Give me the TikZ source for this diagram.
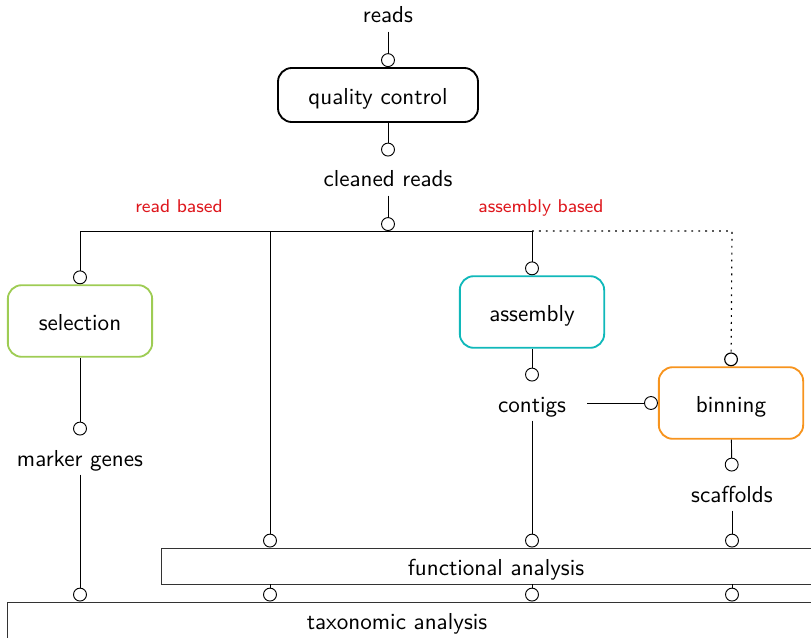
\documentclass[tikz,border=0pt]{standalone}
\usepackage{tikz}
\usetikzlibrary{positioning, calc}
\usetikzlibrary{arrows.meta}
\renewcommand{\familydefault}{\sfdefault}
\definecolor{selgreen}{RGB}{158,204,84}
\definecolor{asmteal}{RGB}{16,184,186}
\definecolor{binorange}{RGB}{247,148,30}
\definecolor{basedred}{RGB}{222,22,28}
\tikzstyle{stepbox}=[rectangle,rounded corners=6pt,line width=0.8pt,minimum width=62.5pt,minimum height=31pt,text height=8pt,text depth=0pt]
\tikzstyle{databox}=[inner sep=1pt,text height=12pt,text depth=2.5pt,anchor=base]
\tikzstyle{endbox}=[rectangle,draw=black!80,thin,minimum height=15.6pt,text height=8pt,text depth=0pt]
\tikzstyle{flow}=[-{Circle[open,length=6pt,width=6pt]},thin]
\tikzstyle{branchnote}=[text=basedred,font=\footnotesize,anchor=base]

\begin{document}
\begin{tikzpicture}[x=0.433pt,y=-0.433pt]
        \useasboundingbox (0,0) rectangle (811,638);

        \node[databox] (reads) at (388,23) {reads};
        \node[stepbox, draw=black, minimum width=86.6pt, minimum height=23.4pt] (qc) at (378,95) {quality control};
        \node[databox] (cleaned) at (388,187) {cleaned reads};

        \coordinate (split) at (388,231);
        \coordinate (splitL) at (80,231);
        \coordinate (splitM) at (270,231);
        \coordinate (splitA) at (532,231);
        \coordinate (splitB) at (732,231);
        \node[branchnote] (readbased) at (179,213) {read based};
        \node[branchnote] (asmbased) at (541,213) {assembly based};

        \node[stepbox, draw=selgreen] (selection) at (80,321) {selection};
        \node[databox] (markers) at (80,466) {marker genes};

        \node[stepbox, draw=asmteal] (assembly) at (532,312) {assembly};
        \node[databox] (contigs) at (532,412) {contigs};
        \node[stepbox, draw=binorange] (binning) at (731,403) {binning};
        \node[databox] (scaffolds) at (732,502) {scaffolds};

        \node[endbox, minimum width=290pt] (func) at (496,566) {functional analysis};
        \node[endbox, minimum width=356pt] (taxo) at (419,620) {};
        \node[databox] (taxotext) at (397,629) {taxonomic analysis};

        \draw[flow] (reads) -- (reads |- qc.north);
        \draw[flow] (reads |- qc.south) -- (cleaned);
        \draw[flow] (cleaned) -- (split);

        \draw[thin] (splitL) -- (splitA);
        \draw[flow, line width=0.5pt, dash pattern=on 0.8pt off 2.2pt] (splitA) -- (splitB) -- (binning.north);

        \draw[flow] (splitL) -- (selection.north);
        \draw[flow] (selection) -- (markers);
        \draw[flow] (markers) -- (markers |- taxo.north);

        \draw[flow] (splitM) -- (splitM |- func.north);
        \draw[flow] (splitM |- func.south) -- (splitM |- taxo.north);

        \draw[flow] (splitA) -- (assembly.north);
        \draw[flow] (assembly) -- (contigs);
        \draw[flow] (contigs) -- (contigs |- func.north);
        \draw[flow] (contigs |- func.south) -- (contigs |- taxo.north);
        \draw[flow, shorten <=8pt] (contigs.east |- binning) -- (binning.west);

        \draw[flow] (binning) -- (scaffolds);
        \draw[flow] (scaffolds) -- (scaffolds |- func.north);
        \draw[flow] (scaffolds |- func.south) -- (scaffolds |- taxo.north);
    \end{tikzpicture}
\end{document}
